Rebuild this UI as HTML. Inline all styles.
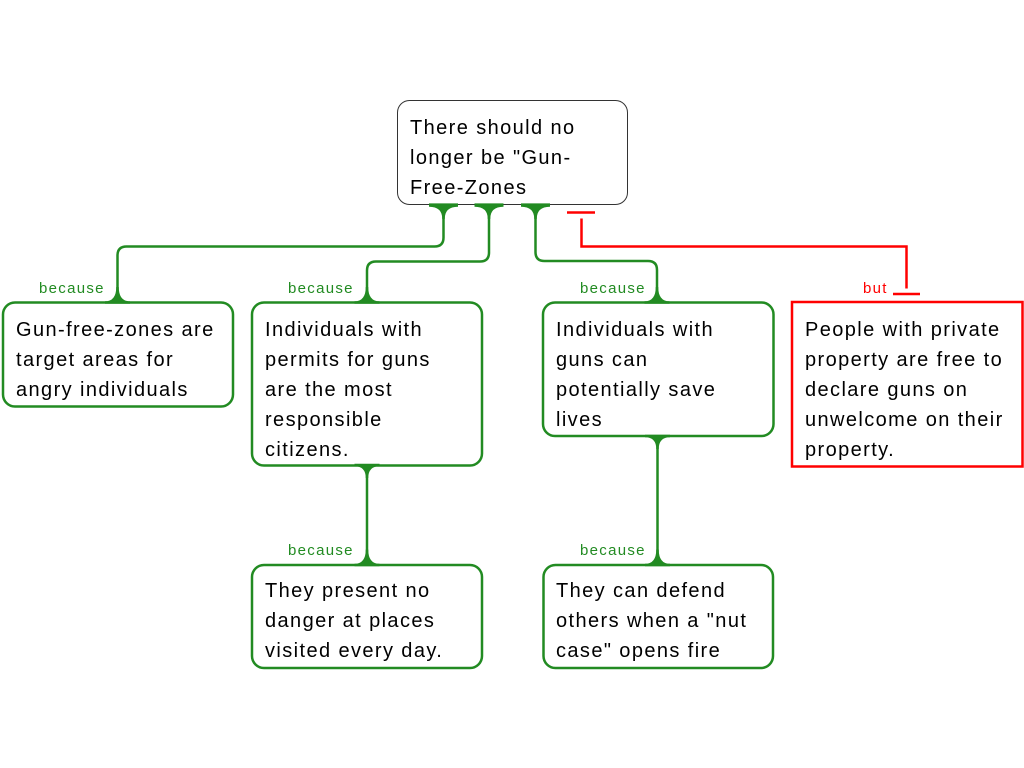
<!DOCTYPE html>
<html>
<head>
<meta charset="utf-8">
<style>
  html, body { margin:0; padding:0; background:#fff; }
  body { width:1024px; height:768px; overflow:hidden; }
  svg { display:block; }
  .t { font-family:"Liberation Sans", Arial, sans-serif; font-size:20px; letter-spacing:1.4px; fill:#000; }
  .lb { font-family:"Liberation Sans", Arial, sans-serif; font-size:15px; letter-spacing:1.3px; fill:#228B22; }
  .lr { font-family:"Liberation Sans", Arial, sans-serif; font-size:15px; letter-spacing:1.3px; fill:#ff0000; }
</style>
</head>
<body>
<svg width="1024" height="768" viewBox="0 0 1024 768" xmlns="http://www.w3.org/2000/svg">
  <rect x="0" y="0" width="1024" height="768" fill="#fff"/>

  <!-- green connectors -->
  <g fill="none" stroke="#228B22" stroke-width="2.5">
    <path d="M 443.5,205 V 237.5 Q 443.5,246.5 434.5,246.5 H 126.5 Q 117.5,246.5 117.5,255.5 V 302"/>
    <path d="M 489,205 V 252.5 Q 489,261.5 480,261.5 H 376 Q 367,261.5 367,270.5 V 302"/>
    <path d="M 535.5,205 V 252 Q 535.5,261 544.5,261 H 648 Q 657,261 657,270 V 302"/>
    <path d="M 367,465 V 565"/>
    <path d="M 657.5,436 V 565"/>
  </g>

  <!-- red connector -->
  <g fill="none" stroke="#ff0000" stroke-width="2.5">
    <path d="M 567,212.5 H 595"/>
    <path d="M 581.5,218.5 V 246.5 H 906.5 V 288.5"/>
    <path d="M 893,294 H 920"/>
  </g>

  <!-- top box -->
  <rect x="397.5" y="100.5" width="230" height="104" rx="12" ry="12" fill="#fff" stroke="#333" stroke-width="1"/>

  <!-- green boxes -->
  <g fill="#fff" stroke="#228B22" stroke-width="2.5">
    <rect x="3" y="302.5" width="230" height="104" rx="12" ry="12"/>
    <rect x="252" y="302.5" width="230" height="163" rx="12" ry="12"/>
    <rect x="543" y="302.5" width="230.5" height="133.5" rx="12" ry="12"/>
    <rect x="252" y="565" width="230" height="103" rx="12" ry="12"/>
    <rect x="543.5" y="565" width="229.5" height="103" rx="12" ry="12"/>
  </g>

  <!-- red box -->
  <rect x="792" y="302" width="230.5" height="164.5" fill="#fff" stroke="#ff0000" stroke-width="2.5"/>

  <!-- flares -->
  <g fill="#228B22" stroke="none">
    <!-- top box bottom, going down -->
    <path d="M 429,203.4 H 458 V 206.8 Q 444.75,206.8 444.75,219 H 442.25 Q 442.25,206.8 429,206.8 Z"/>
    <path d="M 474.5,203.4 H 503.5 V 206.8 Q 490.25,206.8 490.25,219 H 487.75 Q 487.75,206.8 474.5,206.8 Z"/>
    <path d="M 521,203.4 H 550 V 206.8 Q 536.75,206.8 536.75,219 H 534.25 Q 534.25,206.8 521,206.8 Z"/>
    <!-- child tops, going up -->
    <path d="M 105,303.7 H 130 V 301.3 Q 118.75,301.3 118.75,287 H 116.25 Q 116.25,301.3 105,301.3 Z"/>
    <path d="M 354.5,303.7 H 379.5 V 301.3 Q 368.25,301.3 368.25,287 H 365.75 Q 365.75,301.3 354.5,301.3 Z"/>
    <path d="M 644.5,303.7 H 669.5 V 301.3 Q 658.25,301.3 658.25,287 H 655.75 Q 655.75,301.3 644.5,301.3 Z"/>
    <path d="M 354.5,566.2 H 379.5 V 563.8 Q 368.25,563.8 368.25,549.5 H 365.75 Q 365.75,563.8 354.5,563.8 Z"/>
    <path d="M 645,566.2 H 670 V 563.8 Q 658.75,563.8 658.75,549.5 H 656.25 Q 656.25,563.8 645,563.8 Z"/>
    <!-- parent bottoms, going down -->
    <path d="M 354.5,463.8 H 379.5 V 466.2 Q 368.25,466.2 368.25,478 H 365.75 Q 365.75,466.2 354.5,466.2 Z"/>
    <path d="M 645,434.8 H 670 V 437.2 Q 658.75,437.2 658.75,449 H 656.25 Q 656.25,437.2 645,437.2 Z"/>
  </g>

  <!-- labels -->
  <text class="lb" x="39" y="293">because</text>
  <text class="lb" x="288" y="293">because</text>
  <text class="lb" x="580" y="293">because</text>
  <text class="lr" x="863" y="293">but</text>
  <text class="lb" x="288" y="555">because</text>
  <text class="lb" x="580" y="555">because</text>

  <!-- top box text -->
  <text class="t" x="410" y="134">There should no</text>
  <text class="t" x="410" y="164">longer be "Gun-</text>
  <text class="t" x="410" y="194">Free-Zones</text>

  <!-- box 1 -->
  <text class="t" x="16" y="336">Gun-free-zones are</text>
  <text class="t" x="16" y="366">target areas for</text>
  <text class="t" x="16" y="396">angry individuals</text>

  <!-- box 2 -->
  <text class="t" x="265" y="336">Individuals with</text>
  <text class="t" x="265" y="366">permits for guns</text>
  <text class="t" x="265" y="396">are the most</text>
  <text class="t" x="265" y="426">responsible</text>
  <text class="t" x="265" y="456">citizens.</text>

  <!-- box 3 -->
  <text class="t" x="556" y="336">Individuals with</text>
  <text class="t" x="556" y="366">guns can</text>
  <text class="t" x="556" y="396">potentially save</text>
  <text class="t" x="556" y="426">lives</text>

  <!-- red box -->
  <text class="t" x="805" y="336">People with private</text>
  <text class="t" x="805" y="366">property are free to</text>
  <text class="t" x="805" y="396">declare guns on</text>
  <text class="t" x="805" y="426">unwelcome on their</text>
  <text class="t" x="805" y="456">property.</text>

  <!-- box 4 -->
  <text class="t" x="265" y="597">They present no</text>
  <text class="t" x="265" y="627">danger at places</text>
  <text class="t" x="265" y="657">visited every day.</text>

  <!-- box 5 -->
  <text class="t" x="556" y="597">They can defend</text>
  <text class="t" x="556" y="627">others when a "nut</text>
  <text class="t" x="556" y="657">case" opens fire</text>
</svg>
</body>
</html>
